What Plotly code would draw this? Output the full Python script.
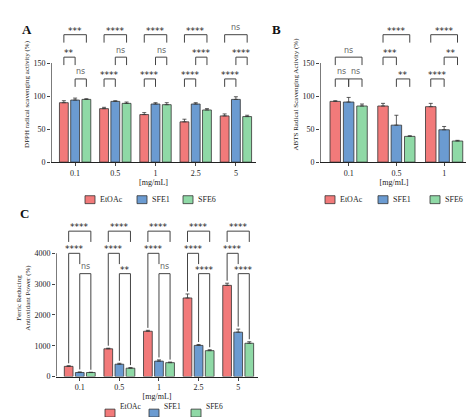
import plotly.graph_objects as go

RED, BLUE, GREEN = "#f27a7a", "#6b9bd1", "#8fd9a6"
series = ["EtOAc", "SFE1", "SFE6"]
colors = [RED, BLUE, GREEN]

a_cats = ["0.1", "0.5", "1", "2.5", "5"]
a_etoac = [90, 81, 72, 61, 70]
a_sfe1 = [94, 92, 88, 88, 95]
a_sfe6 = [95, 89, 87, 79, 69]
a_err_etoac = [3, 2, 3, 4, 3]
a_err_sfe1 = [3, 1, 2, 2, 4]
a_err_sfe6 = [1, 2, 3, 2, 2]
a_sig_e1 = ["**", "****", "****", "****", "****"]
a_sig_16 = ["ns", "ns", "ns", "****", "****"]
a_sig_e6 = ["***", "****", "****", "****", "ns"]
a_lvl_e1 = [1, 0, 0, 0, 0]
a_lvl_16 = [0, 1, 1, 1, 1]

b_cats = ["0.1", "0.5", "1"]
b_etoac = [92, 85, 84]
b_sfe1 = [91, 56, 49]
b_sfe6 = [85, 39, 32]
b_err_etoac = [1, 4, 5]
b_err_sfe1 = [7, 15, 5]
b_err_sfe6 = [3, 1, 1]
b_sig_e1 = ["ns", "***", "****"]
b_sig_16 = ["ns", "**", "**"]
b_sig_e6 = ["ns", "****", "****"]
b_lvl_e1 = [0, 1, 0]
b_lvl_16 = [0, 0, 1]
b_lvl_e6 = [1, 2, 2]

c_cats = ["0.1", "0.5", "1", "2.5", "5"]
c_etoac = [330, 900, 1470, 2550, 2960]
c_sfe1 = [130, 400, 500, 1010, 1440]
c_sfe6 = [130, 270, 450, 840, 1080]
c_err_etoac = [20, 20, 30, 130, 70]
c_err_sfe1 = [20, 30, 40, 30, 100]
c_err_sfe6 = [10, 20, 20, 30, 50]
c_sig_e1 = ["****"] * 5
c_sig_16 = ["ns", "**", "ns", "****", "****"]
c_sig_e6 = ["****"] * 5

fig = go.Figure()
FONT = "Liberation Serif"
OFF = [-0.28, 0, 0.28]
W = 0.22

def panel(ax, cats, vals, errs, ymax_tick):
    xa = "x" if ax == 1 else f"x{ax}"
    ya = "y" if ax == 1 else f"y{ax}"
    for s in range(3):
        fig.add_trace(go.Bar(
            x=[i + OFF[s] for i in range(len(cats))], y=vals[s], width=W,
            marker=dict(color=colors[s], line=dict(color="#333", width=0.8)),
            error_y=dict(type="data", array=errs[s], symmetric=False, color="#333", thickness=0.8, width=2),
            showlegend=False, xaxis=xa, yaxis=ya))
    fig.add_shape(type="line", xref=xa, yref=ya, x0=-0.6, x1=-0.6, y0=0, y1=ymax_tick,
                  line=dict(color="#222", width=1.2))
    return xa, ya

def bracket(xa, ya, x0, x1, y, leg0, leg1, label):
    fig.add_shape(type="path", xref=xa, yref=ya,
                  path=f"M {x0},{leg0} L {x0},{y} L {x1},{y} L {x1},{leg1}",
                  line=dict(color="#444", width=1))
    fig.add_annotation(x=(x0 + x1) / 2, y=y, xref=xa, yref=ya, text=label, showarrow=False,
                       yshift=7 if label == "ns" else 4,
                       font=dict(family="DejaVu Sans", size=8 if label == "ns" else 9,
                                 color="#666" if label == "ns" else "#222"))

xa, ya = panel(1, a_cats, [a_etoac, a_sfe1, a_sfe6], [a_err_etoac, a_err_sfe1, a_err_sfe6], 150)
LA = [126, 159, 193]
for i in range(5):
    y = LA[a_lvl_e1[i]]; bracket(xa, ya, i + OFF[0], i + OFF[1], y, y - 12, y - 12, a_sig_e1[i])
    y = LA[a_lvl_16[i]]; bracket(xa, ya, i + OFF[1], i + OFF[2], y, y - 12, y - 12, a_sig_16[i])
    y = LA[2]; bracket(xa, ya, i + OFF[0], i + OFF[2], y, y - 12, y - 12, a_sig_e6[i])

xb, yb = panel(2, b_cats, [b_etoac, b_sfe1, b_sfe6], [b_err_etoac, b_err_sfe1, b_err_sfe6], 150)
for i in range(3):
    y = LA[b_lvl_e1[i]]; bracket(xb, yb, i + OFF[0], i + OFF[1], y, y - 12, y - 12, b_sig_e1[i])
    y = LA[b_lvl_16[i]]; bracket(xb, yb, i + OFF[1], i + OFF[2], y, y - 12, y - 12, b_sig_16[i])
    y = LA[b_lvl_e6[i]]; bracket(xb, yb, i + OFF[0], i + OFF[2], y, y - 12, y - 12, b_sig_e6[i])

xc, yc = panel(3, c_cats, [c_etoac, c_sfe1, c_sfe6], [c_err_etoac, c_err_sfe1, c_err_sfe6], 4000)
LC = [3340, 4000, 4720]
for i in range(5):
    top_e = c_etoac[i] + c_err_etoac[i] + 80
    top_1 = c_sfe1[i] + c_err_sfe1[i] + 80
    top_6 = c_sfe6[i] + c_err_sfe6[i] + 80
    bracket(xc, yc, i + OFF[0], i + OFF[1], LC[1], top_e, LC[1] - 350, c_sig_e1[i])
    bracket(xc, yc, i + OFF[1], i + OFF[2], LC[0], top_1, top_6, c_sig_16[i])
    bracket(xc, yc, i + OFF[0], i + OFF[2], LC[2], LC[2] - 350, LC[2] - 350, c_sig_e6[i])

H = 417.0; Wd = 474.0
def xd(a, b): return [a / Wd, b / Wd]
def yd(top, bot): return [1 - bot / H, 1 - top / H]

tickfont = dict(family=FONT, size=8, color="#222")
common_x = dict(showline=True, linecolor="#222", linewidth=1.2, ticks="outside", ticklen=3,
                tickfont=tickfont, showgrid=False, zeroline=False,
                title=dict(text="[mg/mL]", font=dict(family=FONT, size=8, color="#222"), standoff=2))
common_y = dict(showline=False, ticks="outside", ticklen=3, tickfont=tickfont, showgrid=False, zeroline=False)

fig.update_layout(
    width=474, height=417, paper_bgcolor="white", plot_bgcolor="white",
    margin=dict(l=0, r=0, t=0, b=0), barmode="overlay",
    xaxis=dict(domain=xd(43, 248), range=[-0.6, 4.5], tickvals=list(range(5)), ticktext=a_cats, anchor="y", **common_x),
    yaxis=dict(domain=yd(19, 156), range=[0, 205], tickvals=[0, 50, 100, 150], anchor="x",
               title=dict(text="DPPH radical scavenging activity (%)", font=dict(family=FONT, size=7, color="#222"), standoff=2), **common_y),
    xaxis2=dict(domain=xd(312, 460), range=[-0.6, 2.5], tickvals=list(range(3)), ticktext=b_cats, anchor="y2", **common_x),
    yaxis2=dict(domain=yd(19, 156), range=[0, 205], tickvals=[0, 50, 100, 150], anchor="x2",
                title=dict(text="ABTS Radical Scavenging Activity (%)", font=dict(family=FONT, size=7, color="#222"), standoff=2), **common_y),
    xaxis3=dict(domain=xd(48, 250), range=[-0.6, 4.5], tickvals=list(range(5)), ticktext=c_cats, anchor="y3", **common_x),
    yaxis3=dict(domain=yd(214, 373), range=[0, 5100], tickvals=[0, 1000, 2000, 3000, 4000], anchor="x3",
                title=dict(text="Ferric Reducing<br>Antioxidant Power (%)", font=dict(family=FONT, size=7, color="#222"), standoff=2), **common_y),
)

for txt, px, py in [("A", 12, 12), ("B", 268, 12), ("C", 10, 208)]:
    fig.add_annotation(x=px / Wd, y=1 - py / H, xref="paper", yref="paper", text=f"<b>{txt}</b>",
                       showarrow=False, font=dict(family=FONT, size=13, color="#111"))

def legend(xs, ypx, size):
    for s in range(3):
        x0 = xs[s]
        fig.add_shape(type="rect", xref="paper", yref="paper",
                      x0=x0 / Wd, x1=(x0 + 10) / Wd, y0=1 - (ypx + 4) / H, y1=1 - (ypx - 4) / H,
                      fillcolor=colors[s], line=dict(color="#333", width=0.8))
        fig.add_annotation(x=(x0 + 13) / Wd, y=1 - ypx / H, xref="paper", yref="paper", text=series[s],
                           showarrow=False, xanchor="left", font=dict(family=FONT, size=size, color="#222"))

legend([77, 129, 175], 194, 8)
legend([317, 370, 422], 194, 8)
legend([97, 141, 183], 410, 7.5)

fig.write_html("out.html")
